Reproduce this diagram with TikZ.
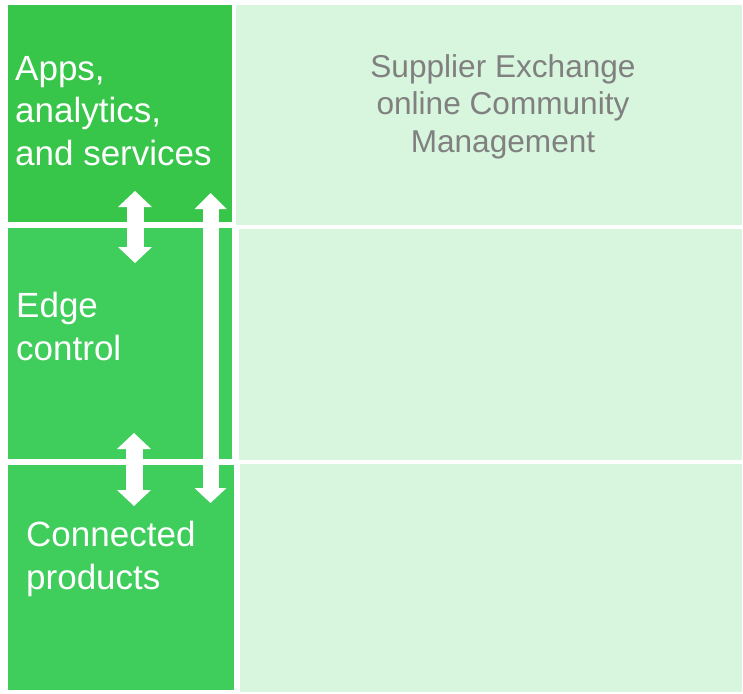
\documentclass[tikz,border=0pt]{standalone}
\usepackage{fontspec}
\setmainfont{Liberation Sans}
\usepackage{tikz}
\usetikzlibrary{arrows.meta,positioning}

\definecolor{appsgreen}{RGB}{55,197,74}
\definecolor{layergreen}{RGB}{63,205,91}
\definecolor{palegreen}{RGB}{216,245,222}
\definecolor{txtgray}{RGB}{128,128,128}

\begin{document}
\begin{tikzpicture}[x=1pt,y=-1pt,
    layer/.style={anchor=north west,inner sep=0,outer sep=0,minimum width=#1},
    layertxt/.style={anchor=north west,inner sep=0,align=left,text=white,
        font=\fontsize{35}{42.5}\selectfont},
    sxtxt/.style={anchor=north,inner sep=0,align=center,text=txtgray,
        font=\fontsize{31.6}{37.5}\selectfont},
    link/.style={white,line width=17pt},
    tip/.tip={Triangle[width=34pt,length=16pt,line width=0pt]}]
    \useasboundingbox (0,0) rectangle (743,693);
    % left column
    \node[layer=224,fill=appsgreen,minimum height=217] (apps) at (8,5) {};
    \node[layer=224,fill=layergreen,minimum height=231] (edge) at (8,228) {};
    \node[layer=226,fill=layergreen,minimum height=225] (prod) at (8,465) {};
    % right column
    \node[layer=506,fill=palegreen,minimum height=220] (sx1) at (236,5) {};
    \node[layer=503,fill=palegreen,minimum height=231] (sx2) at (239,229) {};
    \node[layer=502,fill=palegreen,minimum height=228] (sx3) at (240,464) {};
    % labels
    \node[layertxt] (appsTxt) at ([shift={(7,51)}]apps.north west)
        {Apps,\\analytics,\\and services};
    \node[layertxt] (edgeTxt) at ([shift={(8,64)}]edge.north west)
        {Edge\\control};
    \node[layertxt] (prodTxt) at ([shift={(18,56)}]prod.north west)
        {Connected\\products};
    \node[sxtxt] (sxTxt) at (503,54)
        {Supplier Exchange\\online Community\\Management};
    % arrows
    \coordinate (upA) at (135,191);
    \coordinate (dnA) at (135,263);
    \coordinate (upB) at (134,433);
    \coordinate (dnB) at (134,506);
    \coordinate (upC) at (210.5,193);
    \coordinate (dnC) at (210.5,503);
    \draw[link,tip-tip] (upA) -- (dnA);
    \draw[link,tip-tip] (upB) -- (dnB);
    \draw[link,line width=16pt,{Triangle[width=32pt,length=16pt,line width=0pt]}-{Triangle[width=32pt,length=15pt,line width=0pt]}] (upC) -- (dnC);
\end{tikzpicture}
\end{document}
